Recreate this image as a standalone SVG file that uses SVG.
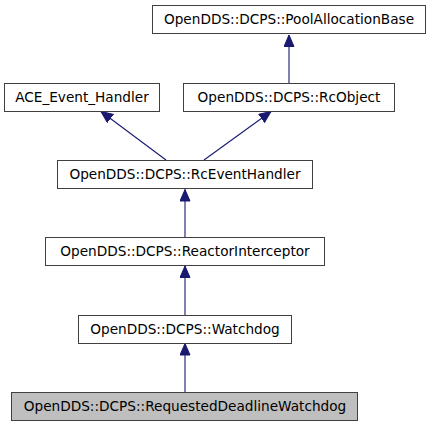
<svg xmlns="http://www.w3.org/2000/svg" width="431" height="427" viewBox="0 0 431 427">
<defs>
<style>
.box{fill:#ffffff;stroke:#404040;stroke-width:1}
.cur{fill:#bfbfbf;stroke:#404040;stroke-width:1}
.lbl{font-family:"DejaVu Sans",sans-serif;font-size:13.65px;fill:#000000;text-anchor:middle}
.edge{stroke:#191970;stroke-width:1.1;fill:none;marker-end:url(#arr)}
</style>
<marker id="arr" markerUnits="userSpaceOnUse" markerWidth="14" markerHeight="12" refX="12" refY="5.5" orient="auto">
<path d="M0.5,0.5 L12,5.5 L0.5,10.5 Z" fill="#191970" stroke="#191970" stroke-width="1"/>
</marker>
</defs>
<rect width="431" height="427" fill="#ffffff"/>
<g id="connectors">
<line class="edge" x1="289" y1="83.5" x2="289" y2="35"/>
<line class="edge" x1="166" y1="160" x2="101" y2="111.5"/>
<line class="edge" x1="204" y1="160" x2="271" y2="111.5"/>
<line class="edge" x1="185" y1="237.5" x2="185" y2="189.5"/>
<line class="edge" x1="185" y1="315.5" x2="185" y2="266"/>
<line class="edge" x1="185" y1="392.5" x2="185" y2="343.5"/>
</g>
<g id="node-PoolAllocationBase">
<rect class="box" x="152.5" y="5.5" width="273" height="28"/>
<text class="lbl" x="289" y="24">OpenDDS::DCPS::PoolAllocationBase</text>
</g>
<g id="node-ACE_Event_Handler">
<rect class="box" x="4.5" y="83.5" width="155" height="28"/>
<text class="lbl" x="82" y="102">ACE_Event_Handler</text>
</g>
<g id="node-RcObject">
<rect class="box" x="183.5" y="83.5" width="211" height="28"/>
<text class="lbl" x="289" y="102">OpenDDS::DCPS::RcObject</text>
</g>
<g id="node-RcEventHandler">
<rect class="box" x="57.5" y="160.5" width="255" height="28"/>
<text class="lbl" x="185" y="179">OpenDDS::DCPS::RcEventHandler</text>
</g>
<g id="node-ReactorInterceptor">
<rect class="box" x="45.5" y="237.5" width="279" height="28"/>
<text class="lbl" x="185" y="256">OpenDDS::DCPS::ReactorInterceptor</text>
</g>
<g id="node-Watchdog">
<rect class="box" x="78.5" y="315.5" width="213" height="28"/>
<text class="lbl" x="185" y="334">OpenDDS::DCPS::Watchdog</text>
</g>
<g id="node-RequestedDeadlineWatchdog">
<rect class="cur" x="11.5" y="392.5" width="346" height="28"/>
<text class="lbl" x="185" y="411">OpenDDS::DCPS::RequestedDeadlineWatchdog</text>
</g>
</svg>
